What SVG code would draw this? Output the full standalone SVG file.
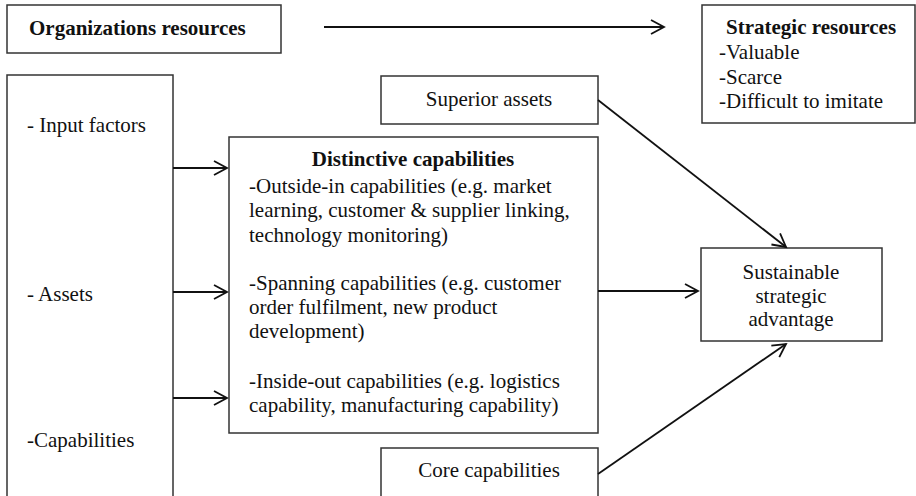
<svg xmlns="http://www.w3.org/2000/svg" width="916" height="496" viewBox="0 0 916 496">
<style>
.box{fill:#fff;stroke:#333;stroke-width:1.5}
text{font-family:"Liberation Serif","Times New Roman",serif;font-size:21px;fill:#111}
.b{font-weight:bold}
.c{text-anchor:middle}
.con{stroke:#111;stroke-width:1.8;fill:none}
</style>
<defs>
<marker id="ah" markerUnits="userSpaceOnUse" markerWidth="20" markerHeight="20" refX="14" refY="8" orient="auto">
<path d="M1,1 L14,8 L1,15" fill="none" stroke="#111" stroke-width="1.8"/>
</marker>
</defs>
<g id="org-resources">
<rect class="box" x="7" y="5" width="274" height="48"/>
<text class="b" x="29" y="35">Organizations resources</text>
</g>
<g id="strategic-resources">
<rect class="box" x="702" y="5" width="213" height="118"/>
<text class="b" x="726" y="34">Strategic resources</text>
<text x="719" y="59">-Valuable</text>
<text x="719" y="84">-Scarce</text>
<text x="719" y="108">-Difficult to imitate</text>
</g>
<g id="left-box">
<rect class="box" x="7" y="75" width="166" height="430"/>
<text x="27" y="132">- Input factors</text>
<text x="27" y="301">- Assets</text>
<text x="27" y="447">-Capabilities</text>
</g>
<g id="distinctive">
<rect class="box" x="229" y="137" width="369" height="296"/>
<text class="b c" x="413" y="166">Distinctive capabilities</text>
<text x="249" y="193">-Outside-in capabilities (e.g. market</text>
<text x="249" y="217">learning, customer &amp; supplier linking,</text>
<text x="249" y="242">technology monitoring)</text>
<text x="249" y="290">-Spanning capabilities (e.g. customer</text>
<text x="249" y="314">order fulfilment, new product</text>
<text x="249" y="338">development)</text>
<text x="249" y="388">-Inside-out capabilities (e.g. logistics</text>
<text x="249" y="412">capability, manufacturing capability)</text>
</g>
<g id="superior-assets">
<rect class="box" x="381" y="76" width="217" height="48"/>
<text class="c" x="489" y="106">Superior assets</text>
</g>
<g id="core-capabilities">
<rect class="box" x="381" y="448" width="217" height="60"/>
<text class="c" x="489" y="477">Core capabilities</text>
</g>
<g id="sustainable">
<rect class="box" x="701" y="248" width="181" height="93"/>
<text class="c" x="791" y="279">Sustainable</text>
<text class="c" x="791" y="303">strategic</text>
<text class="c" x="791" y="326">advantage</text>
</g>
<g id="connectors">
<line class="con" x1="324" y1="27" x2="664" y2="27" marker-end="url(#ah)"/>
<line class="con" x1="173" y1="168" x2="227" y2="168" marker-end="url(#ah)"/>
<line class="con" x1="173" y1="292" x2="227" y2="292" marker-end="url(#ah)"/>
<line class="con" x1="173" y1="398" x2="227" y2="398" marker-end="url(#ah)"/>
<line class="con" x1="598" y1="291" x2="698" y2="291" marker-end="url(#ah)"/>
<line class="con" x1="598" y1="100" x2="786" y2="247" marker-end="url(#ah)"/>
<line class="con" x1="598" y1="474" x2="786" y2="344" marker-end="url(#ah)"/>
</g>
</svg>
